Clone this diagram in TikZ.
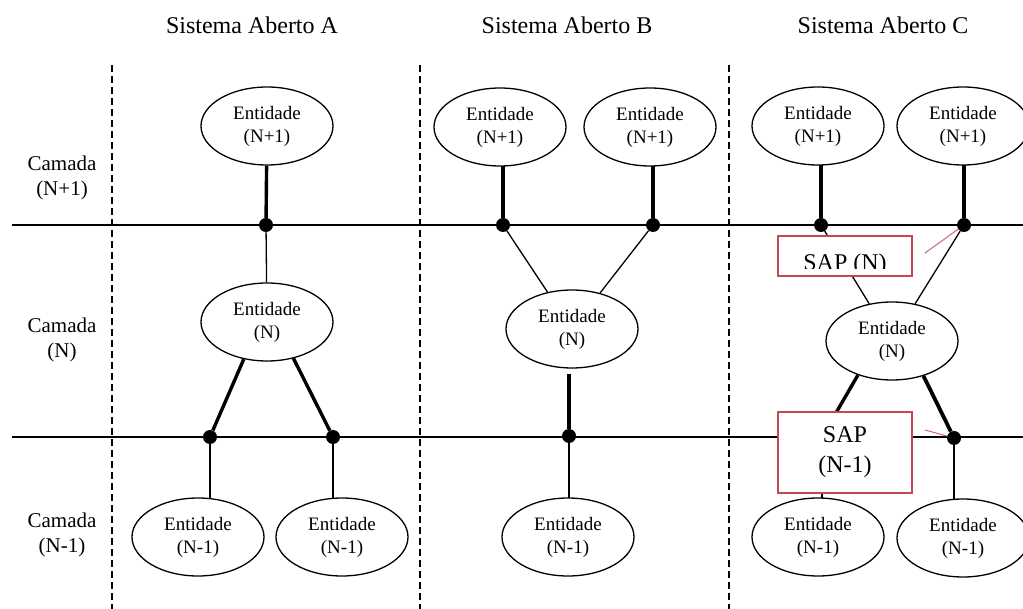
\documentclass[tikz,border=0pt]{standalone}
\usepackage{fontspec}
\setmainfont{Liberation Serif}
\usetikzlibrary{shapes.geometric,backgrounds}
\definecolor{sapred}{RGB}{196,72,84}
\definecolor{notered}{RGB}{214,96,116}

\begin{document}
\begin{tikzpicture}[x=1pt,y=-1pt,
  ent/.style={ellipse,draw,line width=1.3pt,fill=white,minimum width=132pt,
    minimum height=78pt,inner sep=0pt,align=center,
    font=\fontsize{19}{23}\selectfont},
  junction/.style={circle,fill=black,minimum size=14pt,inner sep=0pt},
  layerline/.style={line width=1.8pt},
  thinlink/.style={line width=1.3pt},
  thicklink/.style={line width=3.4pt},
  sysborder/.style={dashed,dash pattern=on 7pt off 4pt},
  sapbox/.style={draw=sapred,line width=1.6pt,fill=white,inner sep=0pt,
    align=center,font=\fontsize{24}{30}\selectfont},
  note/.style={draw=notered,line width=1pt},
  title/.style={font=\fontsize{24}{28}\selectfont},
  layerlabel/.style={align=center,font=\fontsize{21}{25}\selectfont}]

\useasboundingbox (0,0) rectangle (1023,609);

% titles of the three open systems
\node[title] (tA) at (252,25) {Sistema Aberto A};
\node[title] (tB) at (567,25) {Sistema Aberto B};
\node[title] (tC) at (883,25) {Sistema Aberto C};

% layer names
\node[layerlabel] (lN1) at (62,178) {Camada\\(N+1)};
\node[layerlabel] (lN)  at (62,340) {Camada\\(N)};
\node[layerlabel] (lNm) at (62,535) {Camada\\(N-1)};

% layer boundaries and system boundaries
\coordinate (b1l) at (12,225);  \coordinate (b1r) at (1023,225);
\coordinate (b2l) at (12,437);  \coordinate (b2r) at (1023,437);
\coordinate (vAt) at (112,65);  \coordinate (vAb) at (112,609);
\coordinate (vBt) at (420,65);  \coordinate (vBb) at (420,609);
\coordinate (vCt) at (729,65);  \coordinate (vCb) at (729,609);

% entities, system A
\node[ent] (eA1) at (267,126) {Entidade\\(N+1)};
\node[ent] (eA)  at (267,322) {Entidade\\(N)};
\node[ent] (eAm1) at (198,537) {Entidade\\(N-1)};
\node[ent] (eAm2) at (342,537) {Entidade\\(N-1)};
% entities, system B
\node[ent] (eB1) at (500,127) {Entidade\\(N+1)};
\node[ent] (eB2) at (650,127) {Entidade\\(N+1)};
\node[ent] (eB)  at (572,329) {Entidade\\(N)};
\node[ent] (eBm) at (568,537) {Entidade\\(N-1)};
% entities, system C
\node[ent] (eC1) at (818,126) {Entidade\\(N+1)};
\node[ent] (eC2) at (963,126) {Entidade\\(N+1)};
\node[ent] (eC)  at (892,341) {Entidade\\(N)};
\node[ent] (eCm1) at (818,537) {Entidade\\(N-1)};
\node[ent] (eCm2) at (963,538) {Entidade\\(N-1)};

% service access points
\node[junction] (jA0) at (266,225) {};
\node[junction] (jA1) at (210,437) {};
\node[junction] (jA2) at (333,437) {};
\node[junction] (jB1) at (503,225) {};
\node[junction] (jB2) at (653,225) {};
\node[junction] (jB3) at (569,436) {};
\node[junction] (jC1) at (821,225) {};
\node[junction] (jC2) at (964,225) {};
\coordinate (jC3) at (822,437);
\node[junction] (jC4) at (954,438) {};

\begin{pgfonlayer}{background}
  \draw[layerline] (b1l) -- (b1r);
  \draw[layerline] (b2l) -- (b2r);
  \draw[sysborder,line width=1.5pt] (vAt) -- (vAb);
  \draw[sysborder,line width=2.6pt] (vBt) -- (vBb);
  \draw[sysborder,line width=2.2pt] (vCt) -- (vCb);
  % system A
  \draw[thicklink] (eA1) -- (jA0);
  \draw[thinlink] (jA0) -- (eA);
  \draw[thicklink] (eA.238) -- (jA1);
  \draw[thicklink] (eA.306) -- (jA2);
  \draw[thinlink] (jA1) -- (jA1 |- eAm1.center);
  \draw[thinlink] (jA2) -- (jA2 |- eAm2.center);
  % system B
  \draw[thicklink] (jB1 |- eB1.center) -- (jB1);
  \draw[thicklink,line width=4.2pt] (jB2 |- eB2.center) -- (jB2);
  \draw[thinlink] (jB1) -- (eB);
  \draw[thinlink] (jB2) -- (eB);
  \draw[thicklink,line width=4.2pt,shorten <=5pt] (jB3 |- eB.south) -- (jB3);
  \draw[thinlink] (jB3) -- (jB3 |- eBm.center);
  % system C
  \draw[thicklink] (jC1 |- eC1.center) -- (jC1);
  \draw[thicklink] (jC2 |- eC2.center) -- (jC2);
  \draw[thinlink] (jC1) -- (eC);
  \draw[thinlink] (jC2) -- (eC);
  \draw[thicklink] (eC.225) -- (jC3);
  \draw[thicklink,line width=3.8pt] (eC.312) -- (jC4);
  \draw[thinlink] (jC3) -- (jC3 |- eCm1.center);
  \draw[thinlink] (jC4) -- (jC4 |- eCm2.center);
\end{pgfonlayer}

% SAP boxes of system C
\node[sapbox,minimum width=134pt,minimum height=40pt] (sapN) at (845,256) {};
\begin{scope}
  \clip (779,237) rectangle (911,269);
  \node[font=\fontsize{24}{28}\selectfont,anchor=base] (sapNtext) at (845,271) {SAP (N)};
\end{scope}
\node[sapbox,minimum width=134pt,minimum height=81pt] (sapNm) at (845,452.5) {SAP\\(N-1)};

% red pointer strokes
\coordinate (pN) at (925,253);
\coordinate (pNm) at (925,430);
\draw[note] (pN) -- (jC2);
\draw[note] (pNm) -- (jC4);

\end{tikzpicture}
\end{document}
